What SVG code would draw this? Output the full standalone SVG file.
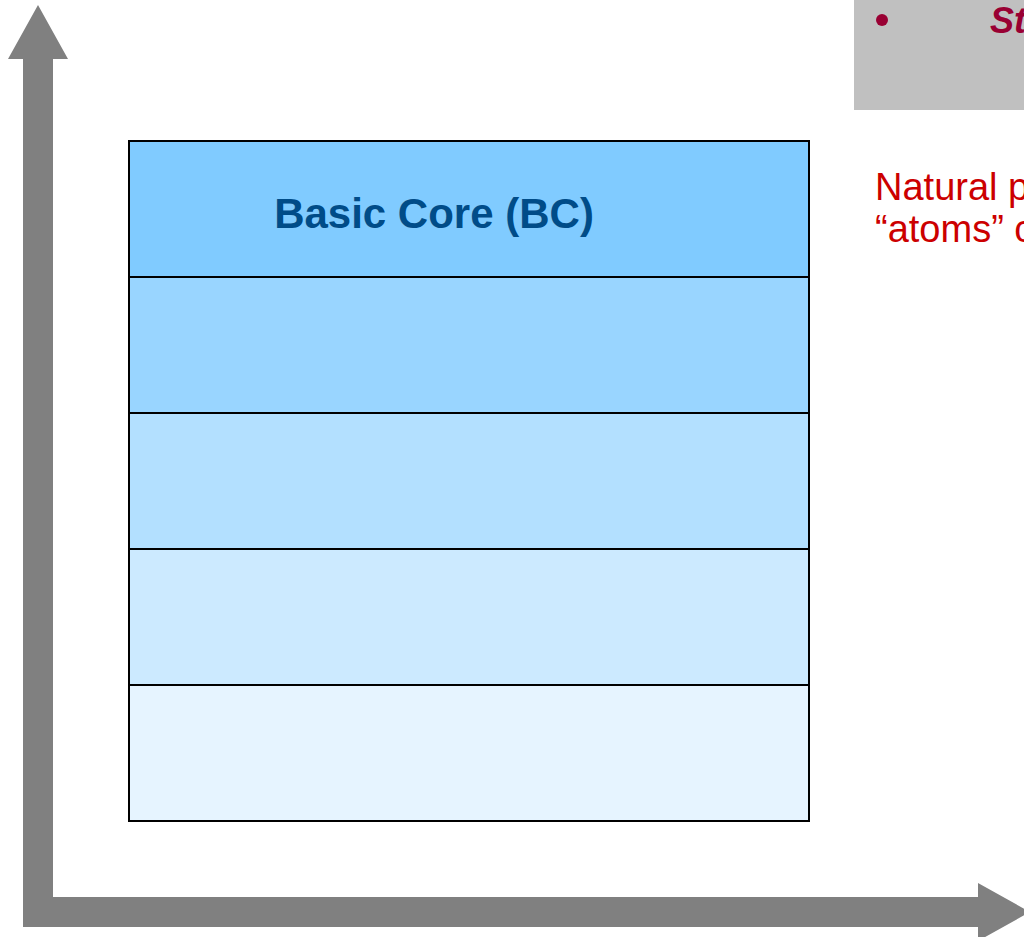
<svg xmlns="http://www.w3.org/2000/svg" width="1024" height="937" viewBox="0 0 1024 937">
<style>
.layer{stroke:#000;stroke-width:2}
.axis{fill:#808080}
</style>
<rect width="1024" height="937" fill="#fff"/>
<g id="connectors">
<polygon class="axis" points="23,927 23,59 8,59 38,5 68,59 53,59 53,897 978,897 978,883 1030,912 978,941 978,927"/>
</g>
<g id="note-box">
<rect x="854" y="0" width="180" height="110" fill="#c0c0c0"/>
<circle cx="882" cy="20" r="6" fill="#990033"/>
<text x="990" y="33" font-family="Liberation Sans, Arial, sans-serif" font-size="36" font-weight="bold" font-style="italic" fill="#990033">St</text>
</g>
<g id="note-text" font-family="Liberation Sans, Arial, sans-serif" font-size="38" fill="#cc0000">
<text x="875" y="200">Natural p</text>
<text x="875" y="242">“atoms” c</text>
</g>
<g id="layer5"><rect class="layer" x="129" y="685" width="680" height="136" fill="#e6f4ff"/></g>
<g id="layer4"><rect class="layer" x="129" y="549" width="680" height="136" fill="#cceaff"/></g>
<g id="layer3"><rect class="layer" x="129" y="413" width="680" height="136" fill="#b3e0ff"/></g>
<g id="layer2"><rect class="layer" x="129" y="277" width="680" height="136" fill="#99d5ff"/></g>
<g id="basic-core"><rect class="layer" x="129" y="141" width="680" height="136" fill="#80cbff"/>
<text x="434" y="228" text-anchor="middle" font-family="Liberation Sans, Arial, sans-serif" font-size="42" font-weight="bold" fill="#004c88">Basic Core (BC)</text></g>
</svg>
